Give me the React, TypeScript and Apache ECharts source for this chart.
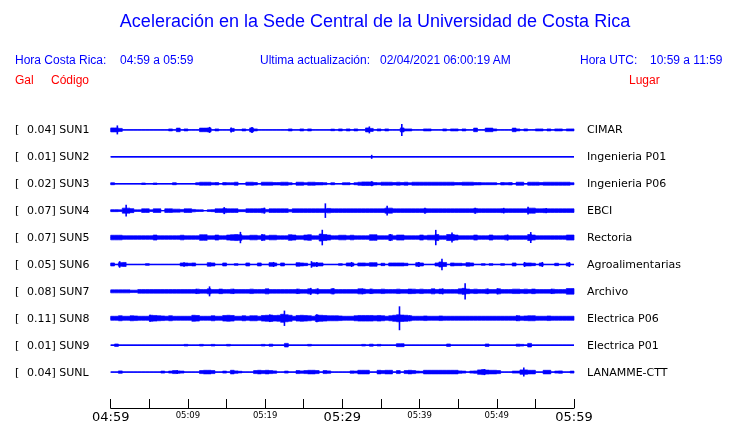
import React, { useEffect, useRef } from "react";
import * as echarts from "echarts";

const BLUE = "#0000ff";
const RED = "#ff0000";

const codes = ["SUN1", "SUN2", "SUN3", "SUN4", "SUN5", "SUN6", "SUN7", "SUN8", "SUN9", "SUNL"];
const gal = ["0.04", "0.01", "0.02", "0.07", "0.07", "0.05", "0.08", "0.11", "0.01", "0.04"];
const places = ["CIMAR", "Ingenieria P01", "Ingenieria P06", "EBCI", "Rectoria", "Agroalimentarias", "Archivo", "Electrica P06", "Electrica P01", "LANAMME-CTT"];
const timeLabels = ["04:59", "05:09", "05:19", "05:29", "05:39", "05:49", "05:59"];

// envelope half-amplitude of each trace, one value per half minute (120 samples)
const sun1Band = [
  2, 2, 1.5, 0, 0, 0, 0, 0, 0, 0,
  0, 0, 0, 0, 0, 1, 0, 1.8, 0, 1,
  0, 0, 0, 1.8, 1.8, 2, 0, 1, 0, 0,
  0, 1.5, 0, 0, 1, 0, 2, 1, 0, 0,
  0, 0, 0, 0, 0, 0, 1, 0, 0, 1,
  0, 1, 0, 0, 0, 0, 0, 0.8, 0, 1,
  0, 1, 0, 1, 0, 0, 2, 1.5, 0, 1,
  0, 1, 0, 0, 0, 2, 1, 1, 0, 0,
  0, 1, 1, 0, 0, 0, 1, 0, 1, 1,
  0, 1, 0, 0, 1.8, 0, 0, 1.8, 1.8, 1,
  0, 0, 0, 0, 1.8, 1, 0, 1, 0, 0,
  1, 1, 0, 1, 0, 1, 1, 0, 1, 1,
];
const sun2Band = [
  0, 0, 0, 0, 0, 0, 0, 0, 0, 0,
  0, 0, 0, 0, 0, 0, 0, 0, 0, 0,
  0, 0, 0, 0, 0, 0, 0, 0, 0, 0,
  0, 0, 0, 0, 0, 0, 0, 0, 0, 0,
  0, 0, 0, 0, 0, 0, 0, 0, 0, 0,
  0, 0, 0, 0, 0, 0, 0, 0, 0, 0,
  0, 0, 0, 0, 0, 0, 0, 0, 0, 0,
  0, 0, 0, 0, 0, 0, 0, 0, 0, 0,
  0, 0, 0, 0, 0, 0, 0, 0, 0, 0,
  0, 0, 0, 0, 0, 0, 0, 0, 0, 0,
  0, 0, 0, 0, 0, 0, 0, 0, 0, 0,
  0, 0, 0, 0, 0, 0, 0, 0, 0, 0,
];
const sun3Band = [
  1, 0, 0, 0, 0, 0, 0, 0, 0.7, 0,
  0, 0.7, 0, 0, 0, 0, 1, 0, 0, 0,
  0, 0, 1, 1.5, 1.5, 1.5, 1, 1.2, 0, 1.2,
  1, 1, 1.5, 0, 0, 1.5, 1.5, 1.2, 0, 1.5,
  1.5, 1.5, 1.2, 1.2, 1.5, 1.5, 1, 0, 1.5, 1.5,
  1, 1.5, 1.5, 1.2, 1.2, 1, 0, 1, 0, 0,
  1, 1, 0, 1, 1.5, 1.8, 1.8, 1.8, 1.2, 1,
  1.5, 1.5, 1.5, 1.2, 1.5, 1.2, 1.5, 1, 1.5, 1.5,
  1.5, 1.5, 1.5, 1.5, 1.5, 1.5, 1.5, 1.5, 1.5, 1.2,
  1.2, 1.5, 1.5, 1.5, 1.2, 1.2, 1, 1, 1, 1,
  0, 1.2, 1, 1.2, 0, 1.5, 1.5, 0, 1.5, 1.5,
  1.5, 1.2, 1.5, 1.5, 1.5, 1.5, 1.5, 1.5, 1.5, 1,
];
const sun4Band = [
  1, 1, 0.8, 2.5, 2.5, 2, 0.8, 0.8, 1.8, 1.8,
  0.8, 1.8, 1.8, 0, 1.8, 1.8, 1.5, 1.5, 1.2, 1.8,
  1.8, 1.2, 0.8, 0.8, 0, 0.8, 1, 1.8, 1.8, 2.2,
  1.8, 1.8, 1.8, 1, 1, 1.8, 1.8, 1.8, 1.8, 2.2,
  1.2, 1.8, 1.8, 1.8, 1.8, 1.8, 1.2, 1.8, 1.8, 1.8,
  1.8, 1.8, 1.8, 1.8, 1.8, 1.8, 2.2, 1.8, 1.8, 1.8,
  1.8, 1.8, 1.8, 1.8, 1.8, 1.8, 1.8, 1.8, 1.8, 1.8,
  1.8, 2.5, 2.5, 1.8, 1.8, 1.8, 1.8, 1.8, 1.8, 1.8,
  1.8, 2, 1.8, 1.8, 1.8, 1.8, 1.8, 1.8, 1.8, 1.8,
  1.8, 1.8, 1.8, 1.8, 2.2, 1.8, 1.8, 1.8, 1.8, 1.8,
  1.8, 2, 1.8, 1.8, 1.8, 1.8, 1.8, 1.8, 2.5, 2.5,
  1.8, 1.8, 2, 1.8, 1.8, 1.8, 1.8, 1.8, 1.8, 1.8,
];
const sun5Band = [
  2.3, 2.3, 2.3, 1.8, 1.8, 1.8, 1.8, 1.8, 1.8, 1.8,
  1.8, 2.5, 1.8, 1.8, 1.8, 1.8, 1.8, 1.8, 2.3, 1.8,
  1.8, 1.8, 1.8, 2.8, 2.8, 1.8, 1.8, 2.5, 1.8, 1.8,
  2.5, 2.8, 3, 2.8, 1.8, 1.8, 2.3, 2.3, 1.8, 2.8,
  1.8, 2.3, 2.3, 1.8, 1.8, 1.8, 2.8, 2.5, 1.8, 1.8,
  2.5, 2.8, 1.8, 1.8, 3.5, 3, 2.5, 1.8, 1.8, 2.3,
  2.3, 1.8, 2.3, 1.8, 1.8, 1.8, 1.8, 2.8, 2.8, 1.8,
  1.8, 1.8, 2.8, 1.8, 2.5, 2.5, 1.8, 1.8, 1.8, 1.8,
  2.5, 1.8, 2.3, 2.3, 3, 1.8, 1.8, 3, 3, 2.5,
  1.8, 1.8, 1.8, 1.8, 2.5, 1.8, 1.8, 1.8, 2.5, 1.8,
  1.8, 1.8, 2.3, 1.8, 1.8, 1.8, 1.8, 1.8, 3, 2.5,
  1.8, 1.8, 1.8, 1.8, 1.8, 1.8, 1.8, 1.8, 2.5, 2.5,
];
const sun6Band = [
  1.5, 0, 1.8, 2, 0, 0, 0, 0, 0, 0.8,
  0, 0, 0, 0, 0, 0, 0, 0, 1.5, 1.5,
  1.2, 1.5, 0, 0, 0, 1.8, 1.5, 0, 0, 1.5,
  0, 0, 0.8, 0, 0, 1.5, 0, 0, 1.5, 0,
  0, 1.8, 1.5, 0, 1.5, 0, 0, 0, 1.8, 1.5,
  1.2, 0, 1.8, 1.5, 1.5, 0, 0, 0, 0, 0.8,
  0, 1.5, 1.5, 0, 1.5, 1.5, 1.2, 1.8, 1.8, 0,
  1.2, 0, 1.5, 1.5, 1.5, 1.5, 1.2, 0, 0, 1.8,
  1.5, 0, 0, 0, 1.5, 2.5, 2, 0, 1.5, 1.2,
  1.2, 0.8, 1.8, 1.5, 0, 0, 0.8, 0, 0.8, 0,
  0, 0.8, 0, 0, 1.5, 0, 0, 1.5, 1.5, 1.2,
  0, 1.5, 0, 0, 0, 1.2, 0, 0, 1.5, 0,
];
const sun7Band = [
  1.5, 1.5, 1.5, 1.5, 1.5, 1.2, 1.2, 1.8, 1.8, 1.8,
  1.8, 1.8, 1.8, 1.8, 1.8, 1.8, 1.8, 1.8, 1.8, 1.8,
  1.8, 1.8, 2.2, 1.8, 1.8, 2.5, 1.8, 1.8, 2.3, 1.8,
  1.8, 2.2, 1.8, 1.8, 1.8, 1.8, 2.2, 1.8, 1.8, 1.8,
  2.5, 1.8, 1.8, 1.8, 1.8, 1.8, 1.8, 1.8, 2.2, 1.8,
  1.8, 2.5, 1.8, 2.2, 1.8, 1.8, 1.8, 2.5, 1.8, 1.8,
  1.8, 1.8, 1.8, 1.8, 2.5, 2.3, 1.8, 2.2, 1.8, 1.8,
  2.2, 1.8, 1.8, 1.8, 2.2, 1.8, 1.8, 2.3, 2.2, 1.8,
  2.2, 1.8, 1.8, 2.5, 1.8, 2.3, 1.8, 1.8, 1.8, 1.8,
  2.5, 3, 2.3, 1.8, 2.2, 1.8, 1.8, 2.2, 1.8, 1.8,
  2.5, 1.8, 1.8, 1.8, 2.2, 2.2, 1.8, 2.2, 1.8, 2.3,
  1.8, 1.8, 1.8, 1.8, 2.2, 1.8, 1.8, 1.8, 2.8, 2.8,
];
const sun8Band = [
  2, 2, 2.5, 2, 2, 2.5, 2.3, 2, 2, 2,
  3, 2.8, 2.5, 2.3, 2, 2.5, 2, 2, 2, 2,
  2, 3, 2.8, 2, 2, 2, 2.5, 2, 2, 2.8,
  3, 2.8, 2, 2, 2.5, 2, 2.5, 2.5, 2, 2.8,
  3, 3.2, 2.8, 3, 4, 3.5, 3, 2, 2.8, 3,
  2.8, 2.5, 2, 3.2, 3, 2.8, 2.5, 2.5, 2.5, 2.3,
  2, 2, 2, 2.5, 2.8, 2.8, 2.8, 2.8, 2.5, 2.8,
  2.5, 2, 2.5, 3, 3.5, 3.2, 3, 2.5, 2, 2,
  2, 2.3, 2, 2, 2, 2.3, 2, 2, 2, 2,
  2, 2, 2, 2, 2, 2, 2, 2, 2, 2,
  2, 2, 2, 2, 2, 2.5, 2, 2.3, 2.5, 2.5,
  2, 2, 2, 2.3, 2, 2, 2, 2, 2, 2,
];
const sun9Band = [
  0, 1.2, 0, 0, 0, 0, 0, 0, 0, 0,
  0, 0, 0, 0, 0, 0, 0, 0, 0, 0.8,
  0, 0, 0, 0.8, 0, 0, 0.8, 0, 0, 0,
  0.8, 0, 0, 0, 0, 0, 0, 0, 0, 0.8,
  0, 1, 0, 0, 0, 1.8, 0, 0, 0, 0,
  0, 0.8, 0, 0, 0, 0, 0, 0, 0, 0,
  0, 0, 0, 0, 0, 0.8, 0, 1, 0, 0.8,
  0, 0, 0, 0, 1.5, 1.5, 0, 0, 0, 0,
  0, 0, 0, 0, 0, 0, 0, 1.2, 0, 0,
  0, 0, 0, 0, 0, 0, 0, 1.2, 0, 0,
  0, 0, 0, 0, 0, 1, 0.8, 0, 1.8, 0,
  0, 0, 0, 0, 0, 0, 0, 0, 0, 0,
];
const sunLBand = [
  0, 0, 1.2, 0, 0, 0, 0, 0, 0, 0,
  0, 0, 0, 1, 0, 1, 1.5, 1.2, 1, 0,
  0, 0, 0, 1.5, 1.8, 1.8, 1.5, 0, 0, 1,
  0, 1.8, 1.2, 0.8, 0, 0, 0, 1.5, 1.8, 1.5,
  1.8, 1.5, 1.2, 0, 0, 1, 0, 0, 1.5, 1.2,
  1.5, 1.8, 1.8, 1.5, 0, 1.5, 1.2, 0, 0, 0,
  0, 0, 1.2, 1, 1.8, 1.8, 1.8, 0, 0, 1.8,
  1.5, 1.8, 1.8, 0, 1.5, 0, 1.5, 1.8, 1.5, 1,
  0.8, 1.8, 1.8, 1.8, 1.8, 1.8, 1.8, 1.8, 1.8, 1.8,
  1.2, 1, 0, 1, 1.2, 2.2, 2.5, 2, 1.8, 1.8,
  1.5, 0, 0, 0, 1, 1, 2.2, 2.2, 1.8, 1.8,
  0, 0, 1.8, 1.8, 0, 1, 1.2, 0, 0, 1,
];

// tall spikes: [minute after 04:59, half amplitude]
const sun1Peaks = [[0.86, 4.5], [12.8, 3], [15.6, 2.5], [18.3, 3], [33.5, 3.5], [37.7, 6]];
const sun2Peaks = [[33.8, 2]];
const sun3Peaks = [[33.8, 2.5]];
const sun4Peaks = [[2.0, 5.8], [14.7, 3.5], [19.9, 3], [27.8, 7.3], [35.8, 5], [40.7, 3], [47.2, 3], [50.9, 2.8], [54.05, 4], [56.4, 2.5]];
const sun5Peaks = [[16.8, 5.7], [19.6, 3.2], [27.4, 7.8], [36.2, 3.5], [42.1, 7.7], [44.2, 5], [51.4, 3], [54.4, 5.5]];
const sun6Peaks = [[1.16, 3.3], [9.5, 2.2], [21.1, 2.5], [26.0, 3.3], [26.7, 2.5], [31.2, 2.5], [39.9, 2.5], [42.9, 5.7], [53.6, 2.5], [55.9, 2.5], [59.4, 2.5]];
const sun7Peaks = [[11.1, 2.5], [12.8, 5], [15.9, 2.5], [24.2, 2.5], [25.9, 3.5], [26.8, 3], [28.8, 3], [32.6, 3], [33.7, 2.5], [43.0, 3], [45.9, 8.2], [48.8, 2.8], [50.1, 3], [57.1, 2.5]];
const sun8Peaks = [[5.1, 3.5], [20.6, 3.8], [22.5, 7.7], [26.7, 4], [37.4, 12], [38.7, 3], [52.6, 2.8]];
const sun9Peaks: number[][] = [];
const sunLPeaks = [[8.6, 2], [48.4, 3], [53.5, 4.5]];

const bands = [sun1Band, sun2Band, sun3Band, sun4Band, sun5Band, sun6Band, sun7Band, sun8Band, sun9Band, sunLBand];
const peaks = [sun1Peaks, sun2Peaks, sun3Peaks, sun4Peaks, sun5Peaks, sun6Peaks, sun7Peaks, sun8Peaks, sun9Peaks, sunLPeaks];

const SPACING = 27;
const STEP = 0.5;

export default function App() {
  const ref = useRef<HTMLDivElement>(null);
  useEffect(() => {
    if (!ref.current) return;
    const chart = echarts.init(ref.current, null, { renderer: "svg" });

    const peakData: number[][] = [];
    peaks.forEach((arr, i) => {
      arr.forEach((p) => peakData.push([p[0], -SPACING * i, p[1]]));
    });
    const traceData = codes.map((_, i) => [0, -SPACING * i, i]);

    const labelFont = "11px 'DejaVu Sans'";
    const headFont = "12px 'Liberation Sans'";

    chart.setOption({
      animation: false,
      grid: { left: 110.7, right: 166, top: 103, height: 297 },
      xAxis: {
        type: "value",
        min: 0,
        max: 60,
        interval: 5,
        position: "bottom",
        offset: 9,
        axisLine: { show: true, onZero: false, lineStyle: { color: "#000", width: 1 } },
        axisTick: { show: true, inside: true, length: 9, lineStyle: { color: "#000", width: 1 } },
        splitLine: { show: false },
        axisLabel: {
          show: true,
          margin: 2,
          showMinLabel: true,
          showMaxLabel: true,
          hideOverlap: false,
          formatter: (v: number) => {
            if (v % 10 !== 0) return "";
            const t = timeLabels[v / 10];
            return v % 30 === 0 ? "{b|" + t + "}" : "{s|" + t + "}";
          },
          rich: {
            b: { fontFamily: "DejaVu Sans", fontSize: 13, color: "#000" },
            s: { fontFamily: "DejaVu Sans", fontSize: 8.5, color: "#000" },
          },
        },
      },
      yAxis: { type: "value", min: -270, max: 27, show: false },
      series: [
        {
          type: "custom",
          clip: false,
          data: traceData,
          renderItem: (params: any, api: any) => {
            const b = api.value(1);
            const i = api.value(2);
            const arr = bands[i];
            const upper: number[][] = [];
            const lower: number[][] = [];
            arr.forEach((a: number, k: number) => {
              upper.push(api.coord([k * STEP, b + a]));
              upper.push(api.coord([(k + 1) * STEP, b + a]));
              lower.push(api.coord([k * STEP, b - a]));
              lower.push(api.coord([(k + 1) * STEP, b - a]));
            });
            const pts = upper.concat(lower.reverse());
            const p0 = api.coord([0, b]);
            const p1 = api.coord([60, b]);
            return {
              type: "group",
              children: [
                { type: "polygon", shape: { points: pts }, style: { fill: BLUE, stroke: BLUE, lineWidth: 0.7, lineJoin: "miter" } },
                {
                  type: "line",
                  shape: { x1: p0[0], y1: p0[1], x2: p1[0], y2: p1[1] },
                  style: { stroke: BLUE, lineWidth: 1.4 },
                },
              ],
            };
          },
        },
        {
          type: "custom",
          clip: false,
          data: peakData,
          renderItem: (params: any, api: any) => {
            const t = api.value(0);
            const b = api.value(1);
            const a = api.value(2);
            const p0 = api.coord([t, b + a]);
            const p1 = api.coord([t, b - a]);
            return {
              type: "line",
              shape: { x1: p0[0], y1: p0[1], x2: p1[0], y2: p1[1] },
              style: { stroke: BLUE, lineWidth: 1.6 },
            };
          },
        },
        {
          type: "custom",
          clip: false,
          data: traceData,
          renderItem: (params: any, api: any) => {
            const i = api.value(2);
            const p = api.coord([0, api.value(1)]);
            const y = p[1];
            return {
              type: "group",
              children: [
                { type: "text", x: 15, y, style: { text: "[", font: labelFont, fill: "#000", verticalAlign: "middle" } },
                { type: "text", x: 27, y, style: { text: gal[i] + "] " + codes[i], font: labelFont, fill: "#000", verticalAlign: "middle" } },
                { type: "text", x: 587, y, style: { text: places[i], font: labelFont, fill: "#000", verticalAlign: "middle" } },
              ],
            };
          },
        },
      ],
      graphic: [
        { type: "text", x: 375, y: 21, style: { text: "Aceleración en la Sede Central de la Universidad de Costa Rica", font: "18px 'Liberation Sans'", fill: BLUE, align: "center", verticalAlign: "middle" } },
        { type: "text", x: 15, y: 60, style: { text: "Hora Costa Rica:", font: headFont, fill: BLUE, verticalAlign: "middle" } },
        { type: "text", x: 120, y: 60, style: { text: "04:59 a 05:59", font: headFont, fill: BLUE, verticalAlign: "middle" } },
        { type: "text", x: 260, y: 60, style: { text: "Ultima actualización:", font: headFont, fill: BLUE, verticalAlign: "middle" } },
        { type: "text", x: 380, y: 60, style: { text: "02/04/2021 06:00:19 AM", font: headFont, fill: BLUE, verticalAlign: "middle" } },
        { type: "text", x: 580, y: 60, style: { text: "Hora UTC:", font: headFont, fill: BLUE, verticalAlign: "middle" } },
        { type: "text", x: 650, y: 60, style: { text: "10:59 a 11:59", font: headFont, fill: BLUE, verticalAlign: "middle" } },
        { type: "text", x: 15, y: 80, style: { text: "Gal", font: headFont, fill: RED, verticalAlign: "middle" } },
        { type: "text", x: 51, y: 80, style: { text: "Código", font: headFont, fill: RED, verticalAlign: "middle" } },
        { type: "text", x: 629, y: 80, style: { text: "Lugar", font: headFont, fill: RED, verticalAlign: "middle" } },
      ],
    });
    return () => chart.dispose();
  }, []);
  return <div ref={ref} style={{ position: "fixed", left: 0, top: 0, width: 740, height: 423 }} />;
}
